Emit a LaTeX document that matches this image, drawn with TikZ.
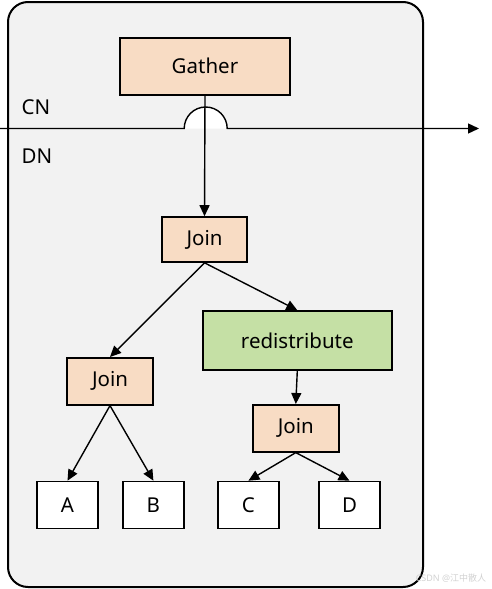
\documentclass[tikz,border=0pt]{standalone}
\usepackage{fontspec}
\setmainfont{Noto Sans}
\newfontfamily\cjk{Noto Sans CJK SC}
\usepackage{tikz}
\usetikzlibrary{arrows.meta, positioning}
\definecolor{peach}{HTML}{F8DCC4}
\definecolor{leafgreen}{HTML}{C5E0A5}
\definecolor{panel}{HTML}{F2F2F2}

\begin{document}
\begin{tikzpicture}[x=1pt, y=-1pt,
    opbox/.style={draw, line width=1.6pt, fill=peach, minimum width=86pt,
      minimum height=47pt, inner sep=0pt, font=\fontsize{20.5}{24}\selectfont},
    tblbox/.style={opbox, fill=white, minimum width=61pt},
    flow/.style={line width=1.4pt, -{Triangle[length=11pt, width=10pt]}}]
  \useasboundingbox (0,0) rectangle (492,589);
  \draw[line width=2pt, fill=panel, rounded corners=20pt] (8,2) rectangle (423,587);
  \node[font=\fontsize{20.5}{24}\selectfont] (cn) at (36,107) {CN};
  \node[font=\fontsize{20.5}{24}\selectfont] (dn) at (37,156) {DN};
  % operators
  \node[opbox, minimum width=170pt, minimum height=57pt] (gather) at (205,66.3) {Gather};
  \node[opbox, minimum width=85pt, minimum height=45pt] (join1) at (204.5,239.5) {Join};
  \node[opbox] (join2) at (110,381.3) {Join};
  \node[opbox, fill=leafgreen, minimum width=189pt, minimum height=59pt] (redist)
      at (297.3,340.5) {redistribute};
  \node[opbox] (join3) at (295.8,428.3) {Join};
  % tables
  \foreach \nm/\xc in {A/67.5, B/153.4, C/248.4, D/349.5} {
    \node[tblbox] (tbl\nm) at (\xc,505) {\nm};
  }
  % CN / DN boundary with a hop over the gather line
  \coordinate (lineW) at (0,128.5);
  \coordinate (lineE) at (479,128.5);
  \fill[white] (184.2,128.5) arc (180:360:21.5) -- cycle;
  \draw[flow] (lineW) -- (184.2,128.5) arc (180:360:21.5) -- (lineE);
  \draw[flow] (gather.south) -- (join1.north);
  \draw[flow] (join1.south) -- (join2.north);
  \draw[flow] (join1.south) -- (redist.north);
  \draw[flow] (redist.south) -- (join3.north);
  \draw[flow] (join2.south) -- (tblA.north);
  \draw[flow] (join2.south) -- (tblB.north);
  \draw[flow] (join3.south) -- (tblC.north);
  \draw[flow] (join3.south) -- (tblD.north);
  \node[gray!35, font=\fontsize{9}{10}\selectfont] (mark) at (451,578)
      {CSDN @{\cjk 江中散人}};
\end{tikzpicture}
\end{document}
